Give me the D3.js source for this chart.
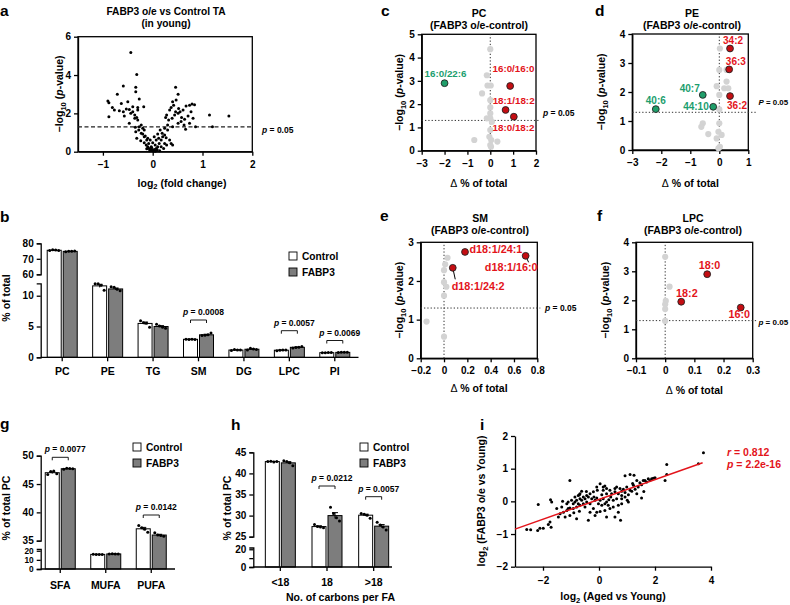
<!DOCTYPE html>
<html><head><meta charset="utf-8">
<script src="https://cdn.jsdelivr.net/npm/d3@7"></script>
<style>html,body{margin:0;padding:0;background:#fff;} svg{display:block;}</style>
</head><body>
<svg id="fig" width="790" height="605"></svg>
<script>
// ================= DATA =================
// Panel a: volcano, [log2 fold change, -log10 p]
const aPoints = [[-0.44,5.18],[-0.32,4.03],[-0.59,3.43],[-0.34,3.36],[-0.71,3.0],[-0.34,3.13],[-0.9,2.64],[-0.88,2.56],[-0.63,2.52],[-0.5,2.6],[-0.27,2.75],[-0.81,2.31],[-0.77,2.17],[-0.59,2.09],[-0.47,2.2],[-0.4,2.35],[-0.3,2.31],[-0.18,2.35],[-0.88,1.83],[-0.53,2.23],[-0.44,2.0],[-0.36,1.91],[-0.32,1.79],[-0.3,1.65],[-0.36,1.74],[-0.4,2.09],[-0.3,2.17],[-0.23,1.39],[-0.2,1.22],[-0.17,1.13],[-0.27,1.3],[-0.34,1.04],[-0.2,0.92],[-0.15,0.82],[-0.32,0.7],[-0.24,0.57],[-0.17,0.47],[-0.13,0.35],[-0.1,0.26],[-0.07,0.17],[-0.05,0.12],[-0.01,0.09],[0.01,0.05],[0.03,0.12],[0.07,0.17],[0.1,0.26],[0.05,0.35],[-0.03,0.26],[-0.08,0.43],[-0.12,0.61],[0.13,0.43],[0.17,0.61],[0.12,0.7],[0.2,0.78],[0.24,0.43],[0.28,0.35],[0.19,0.96],[0.15,1.13],[0.24,1.22],[0.1,0.92],[0.3,1.39],[0.26,1.79],[0.28,1.91],[0.34,2.17],[0.37,2.31],[0.42,2.43],[0.47,2.7],[0.46,3.36],[0.51,3.0],[0.4,2.61],[0.32,1.65],[0.39,1.74],[0.44,1.91],[0.51,2.0],[0.55,2.09],[0.61,2.17],[0.67,2.38],[0.74,2.43],[0.79,2.49],[0.84,2.45],[0.77,2.09],[0.71,1.86],[0.64,1.69],[0.57,1.57],[0.51,1.48],[0.4,1.3],[0.66,1.17],[0.86,1.3],[1.14,1.91],[1.2,1.3],[1.53,1.86],[0.37,0.43],[0.4,0.35],[0.34,0.61],[0.24,0.87],[0.17,0.26],[0.22,0.17],[0.0,0.47],[-0.05,0.61],[-0.17,0.78],[-0.23,0.96],[-0.28,1.13],[-0.35,1.27],[-0.47,1.48],[-0.57,1.86],[-0.67,2.14],[0.46,2.09],[0.52,2.26],[0.58,1.79],[0.63,1.39],[0.74,1.48],[0.81,1.74],[0.3,1.13],[0.27,0.73],[0.07,0.61],[0.03,0.78],[-0.1,0.7],[-0.06,0.05],[0.05,0.02],[-0.02,0.2],[0.09,0.1],[-0.12,0.15],[0.14,0.05]];
const aXTicks = [-1,0,1,2];
const aYTicks = [0,2,4,6];

// Panel b
const bCategories = ['PC','PE','TG','SM','DG','LPC','PI'];
const bControlMean = [75.5,11.6,5.5,2.92,1.18,1.15,0.75];
const bFabp3Mean   = [74.8,11.1,5.0,3.65,1.31,1.62,0.8];
const bControlErr  = [0.12,0.25,0.22,0.03,0.03,0.04,0.02];
const bFabp3Err    = [0.1,0.15,0.14,0.09,0.05,0.06,0.01];
const bControlDots = [[75.3,75.8,75.6,75.4],[11.95,11.95,11.7,10.9],[5.94,5.62,5.52,4.87],[2.95,2.9,2.95,2.88],[1.1,1.25,1.2,1.18],[1.05,1.15,1.2,1.2],[0.72,0.75,0.78,0.76]];
const bFabp3Dots   = [[74.6,74.9,74.8,75.0],[11.46,11.36,11.04,10.81],[5.36,5.08,4.87,4.71],[3.55,3.6,3.65,3.95],[1.2,1.45,1.35,1.25],[1.5,1.6,1.65,1.75],[0.78,0.8,0.82,0.8]];
const bPValues = [null,null,null,'0.0008',null,'0.0057','0.0069'];
const bTopTicks = [60,70,80];
const bBottomTicks = [0,5,10];

// Panel c (PC)
const cGrey = [[0,4.36],[-0.15,3.24],[-0.12,2.8],[0.02,2.8],[-0.36,2.46],[0,2.17],[0,1.86],[0,1.6],[-0.15,1.39],[0,1.39],[0.07,1.24],[0,0.89],[-0.04,0.6],[0.04,0.46],[0,0.24],[0.03,0.17],[-0.7,0.46],[0.31,0.39]];
const cNames = ['16:0/22:6','16:0/16:0','18:1/18:2','18:0/18:2'];
const cDelta = [-2.0,0.87,0.67,1.03];
const cNegLogP = [2.9,2.78,1.75,1.46];
const cGroup = ['down','up','up','up'];

// Panel d (PE)
const dGrey = [[0.02,3.5],[0,2.76],[0.25,2.76],[0.25,2.36],[0.17,2.13],[0.31,2.13],[-0.09,2.2],[0,1.9],[0,1.4],[-0.57,0.92],[-0.62,0.8],[-0.38,0.55],[0,0.92],[-0.03,0.63],[-0.09,0.4],[0.02,0.11],[-0.03,0.06],[0.08,0.52]];
const dNames = ['34:2','36:3','36:2','40:7','44:10','40:6'];
const dDelta = [0.37,0.34,0.37,-0.57,-0.21,-2.19];
const dNegLogP = [3.5,2.78,1.86,1.9,1.49,1.41];
const dGroup = ['up','up','up','down','down','down'];

// Panel e (SM)
const eGrey = [[0.03,2.6],[0.01,2.43],[0,2.28],[0,1.97],[0.02,1.85],[0,1.62],[-0.15,0.95],[0,0.56]];
const eNames = ['d18:1/24:1','d18:1/16:0','d18:1/24:2'];
const eDelta = [0.18,0.70,0.075];
const eNegLogP = [2.75,2.65,2.34];
const eGroup = ['up','up','up'];

// Panel f (LPC)
const fGrey = [[0,3.5],[0.015,2.47],[0.002,1.98],[0,1.86],[0,1.7],[0,1.29]];
const fNames = ['18:0','18:2','16:0'];
const fDelta = [0.144,0.055,0.259];
const fNegLogP = [2.9,1.95,1.75];
const fGroup = ['up','up','up'];

// Panel g
const gCategories = ['SFA','MUFA','PUFA'];
const gControlMean = [47.0,16.0,37.1];
const gFabp3Mean   = [47.7,16.5,36.0];
const gControlErr  = [0.15,0.1,0.25];
const gFabp3Err    = [0.05,0.05,0.13];
const gControlDots = [[46.7,47.2,47.3,46.8],[16.2,16.0,15.8,16.0],[37.7,37.3,37.0,36.5]];
const gFabp3Dots   = [[47.6,47.8,47.75,47.7],[16.4,16.6,16.5,16.5],[36.4,36.0,35.9,35.8]];
const gPValues = ['0.0077',null,'0.0142'];
const gTopTicks = [35,40,45,50];
const gBottomTicks = [0,10,20];

// Panel h
const hCategories = ['<18','18','>18'];
const hControlMean = [42.8,27.4,30.1];
const hFabp3Mean   = [42.5,30.0,27.5];
const hControlErr  = [0.05,0.17,0.23];
const hFabp3Err    = [0.26,0.7,0.37];
const hControlDots = [[42.8,42.9,42.7,42.8],[27.9,27.4,27.3,27.1],[30.5,30.3,30.1,29.4]];
const hFabp3Dots   = [[43.0,42.8,42.5,41.8],[32.0,30.5,29.5,28.7],[28.4,27.8,27.3,26.6]];
const hPValues = [null,'0.0212','0.0057'];
const hTopTicks = [25,30,35,40,45];
const hBottomTicks = [0,10,20];

// Panel i: [log2 Aged vs Young, log2 FABP3 o/e vs Young]
const iPoints = [[3.73,1.49],[3.55,1.15],[2.42,1.13],[2.42,0.82],[2.36,0.64],[-1.04,0.64],[1.88,0.69],[1.94,0.71],[1.82,0.64],[1.7,0.59],[1.58,0.64],[1.46,0.57],[1.11,0.82],[1.25,0.8],[0.93,0.78],[1.35,0.64],[1.23,0.49],[1.52,0.1],[1.05,-0.02],[0.63,0.44],[0.75,0.39],[0.87,0.37],[0.99,0.44],[1.11,0.34],[0.57,0.29],[0.69,0.23],[0.81,0.18],[0.93,0.13],[0.39,0.34],[0.27,0.23],[0.15,0.34],[0.04,0.54],[0.21,0.47],[-0.08,0.44],[-0.2,0.29],[-0.32,0.23],[-0.44,0.18],[-0.56,0.13],[-0.68,0.23],[-0.74,0.18],[-0.86,0.13],[-0.98,0.03],[-1.1,-0.02],[-1.3,0],[-0.08,0.1],[0.04,0.03],[0.15,0.08],[0.27,-0.02],[0.42,0.13],[0.51,0.03],[0.63,0.08],[-0.44,-0.02],[-0.56,-0.07],[-0.68,-0.12],[-0.8,-0.17],[-0.92,-0.22],[-1.04,-0.2],[-1.15,-0.28],[-1.27,-0.33],[-1.39,-0.38],[-1.45,-0.48],[-1.21,-0.48],[-1.04,-0.43],[-0.8,-0.53],[-0.38,-0.58],[-0.32,-0.33],[-0.2,-0.22],[-0.08,-0.33],[0.04,-0.31],[0.21,-0.28],[0.27,-0.48],[0.57,-0.48],[0.77,-0.58],[0.51,-0.17],[0.69,-0.12],[0.81,-0.07],[-1.73,0.05],[-1.69,-0.02],[-2.17,-0.1],[-1.75,-0.63],[-1.81,-0.71],[-1.71,-0.79],[-1.99,-0.82],[-2.11,-0.82],[-2.19,-0.89],[-2.44,-0.87],[-2.58,-0.86],[-1.51,-0.22],[-1.33,-0.17],[-1.15,-0.07],[-0.86,-0.02],[-0.74,-0.07],[-0.62,0.03],[-0.5,0.08],[-0.38,0.13],[-0.26,0.08],[-0.14,0.03],[-0.02,-0.07],[0.1,-0.12],[0.33,-0.12],[0.45,0.23],[0.57,0.39],[0.81,0.31],[0.93,0.27],[1.05,0.2],[1.17,0.31],[1.29,0.37],[1.4,0.44],[1.52,0.51],[1.64,0.64],[1.76,0.69],[1.35,0.23],[0.81,0.08],[1.01,0.03],[-0.68,0.08],[-0.92,-0.07],[-0.8,0.03],[-0.14,-0.43],[0.21,-0.07],[0.39,-0.22],[0.69,-0.33],[0.15,0.44],[0.27,0.39],[-0.06,0.34],[-0.62,0.31],[-0.7,0.2],[-0.18,0.13],[-1.1,-0.22],[-0.5,-0.17],[-0.32,-0.07],[-0.7,-0.3],[-0.9,-0.35],[-0.45,0.3],[0.1,0.2],[0.35,0.05],[1.2,0.55],[1.6,0.3],[2.0,0.72]];
const iFitX = [-3.0,3.7];
const iFitY = [-0.85,1.18];
const iXTicks = [-2,0,2,4];
const iYTicks = [-2,-1,0,1,2];

// ================= DRAWING =================
const FONT = '"Liberation Sans", Arial, Helvetica, sans-serif';
const RED_TXT = '#e3141b', RED_PT = '#c40d12', GREEN_TXT = '#1b9e6e', GREEN_PT = '#1f9e6a', GREY_PT = '#d3d3d3', BAR_GREY = '#7d7d7d';
const svg = d3.select('#fig').attr('font-family', FONT).attr('font-weight', 'bold');
const fmtInt = d3.format('');
const fmt1 = d => d === 0 ? '0' : d3.format('.1f')(d);

function addText(parent, x, y, parts, opt = {}) {
  const fs = opt.fs || 10;
  const t = parent.append('text').attr('x', x).attr('y', y).attr('font-size', fs)
    .attr('text-anchor', opt.anchor || 'start').attr('fill', opt.fill || '#000');
  if (opt.rotate) t.attr('transform', `rotate(-90,${x},${y})`);
  if (opt.weight) t.attr('font-weight', opt.weight);
  if (typeof parts === 'string') parts = [{t: parts}];
  let shifted = 0;
  parts.forEach(p => {
    const ts = t.append('tspan').text(p.t);
    if (p.it) ts.attr('font-style', 'italic');
    if (p.w) ts.attr('font-weight', p.w);
    if (p.sub) { ts.attr('font-size', fs * 0.72).attr('dy', fs * 0.25); shifted = fs * 0.25; }
    else if (shifted) { ts.attr('dy', -shifted); shifted = 0; }
  });
  return t;
}
function styleAxis(g, fs = 10) {
  g.attr('font-family', FONT).attr('font-size', fs).attr('font-weight', 'bold');
  g.selectAll('.domain, .tick line').attr('stroke', '#000').attr('stroke-width', 1.3);
  g.selectAll('.tick text').attr('fill', '#000');
  return g;
}
function letter(ch, x, y) { addText(svg, x, y, ch, {fs: 15.5}); }
const negLogPLabel = [{t:'−log'},{t:'10',sub:true},{t:' ('},{t:'p',it:true},{t:'-value)'}];
const deltaLabel = [{t:'Δ', w:'normal'},{t:' % of total'}];

// ---------- Panel a ----------
(function(){
  const g = svg.append('g');
  const x = d3.scaleLinear().domain([-1.5, 2]).range([78, 252.3]);
  const y = d3.scaleLinear().domain([0, 6]).range([151.7, 36.7]);
  letter('a', 0, 15.5);
  addText(g, 166, 15, 'FABP3 o/e vs Control TA', {fs: 10.2, anchor: 'middle'});
  addText(g, 166, 27, '(in young)', {fs: 10.2, anchor: 'middle'});
  g.append('g').attr('transform', `translate(0,${y(0)})`)
    .call(d3.axisBottom(x).tickValues(aXTicks).tickFormat(fmtInt).tickSize(4).tickSizeOuter(0).tickPadding(5)).call(styleAxis);
  g.append('g').attr('transform', `translate(${x(-1.5)},0)`)
    .call(d3.axisLeft(y).tickValues(aYTicks).tickFormat(fmtInt).tickSize(4).tickSizeOuter(0)).call(styleAxis);
  g.append('rect').attr('x', x(-1.5)).attr('y', y(6)).attr('width', x(2) - x(-1.5)).attr('height', y(0) - y(6))
    .attr('fill', 'none').attr('stroke', '#000').attr('stroke-width', 1.3);
  g.append('line').attr('x1', x(-1.5)).attr('x2', x(2)).attr('y1', y(1.3)).attr('y2', y(1.3))
    .attr('stroke', '#222').attr('stroke-width', 1.2).attr('stroke-dasharray', '4,2.5');
  g.selectAll('circle.pt').data(aPoints).join('circle').attr('class', 'pt')
    .attr('cx', d => x(d[0])).attr('cy', d => y(d[1])).attr('r', 1.5).attr('fill', '#000');
  addText(g, 262, 133, [{t:'p', it:true},{t:' = 0.05'}], {fs: 8.5});
  addText(g, 182, 186.5, [{t:'log'},{t:'2',sub:true},{t:' (fold change)'}], {fs: 10.5, anchor: 'middle'});
  addText(g, 63, 94, negLogPLabel, {fs: 10.5, anchor: 'middle', rotate: true});
})();

// ---------- Bar chart helper (b, g, h) ----------
function barPanel(cfg) {
  const g = svg.append('g');
  const x = d3.scaleBand().domain(cfg.cats).range(cfg.band).paddingInner(0).paddingOuter(0);
  const yTop = d3.scaleLinear().domain(cfg.topDom).range(cfg.topRange);
  const yBot = d3.scaleLinear().domain(cfg.botDom).range(cfg.botRange);
  const yv = v => v >= cfg.topDom[0] ? yTop(v) : yBot(v);
  const y0 = yBot(0);
  const bw = 14, gap = 1;
  const series = [
    {mean: cfg.ctrl, err: cfg.ctrlErr, dots: cfg.ctrlDots, fill: '#fff', off: -gap - bw},
    {mean: cfg.fab, err: cfg.fabErr, dots: cfg.fabDots, fill: BAR_GREY, off: gap}
  ];
  series.forEach(s => {
    cfg.cats.forEach((c, i) => {
      const cx = x(c) + x.bandwidth() / 2;
      const left = cx + s.off;
      g.append('rect').attr('x', left).attr('y', yv(s.mean[i])).attr('width', bw).attr('height', y0 - yv(s.mean[i]))
        .attr('fill', s.fill).attr('stroke', '#000').attr('stroke-width', 1);
      const mid = left + bw / 2;
      const e1 = yv(s.mean[i] + s.err[i]), e0 = yv(s.mean[i] - s.err[i]);
      g.append('line').attr('x1', mid).attr('x2', mid).attr('y1', e1).attr('y2', e0).attr('stroke', '#000').attr('stroke-width', 1);
      g.append('line').attr('x1', mid - 3).attr('x2', mid + 3).attr('y1', e1).attr('y2', e1).attr('stroke', '#000').attr('stroke-width', 1);
      const offs = [-4.5, -1.5, 1.5, 4.5];
      s.dots[i].forEach((v, k) => {
        g.append('circle').attr('cx', mid + offs[k]).attr('cy', yv(v)).attr('r', 1.5).attr('fill', '#000');
      });
    });
  });
  // axes
  g.append('g').attr('transform', `translate(${cfg.axisX},0)`)
    .call(d3.axisLeft(yTop).tickValues(cfg.topTicks).tickFormat(fmtInt).tickSize(4).tickSizeOuter(4)).call(styleAxis);
  g.append('g').attr('transform', `translate(${cfg.axisX},0)`)
    .call(d3.axisLeft(yBot).tickValues(cfg.botTicks).tickSize(4).tickSizeOuter(4)
      .tickFormat(d => (cfg.botLabels ? (cfg.botLabels.includes(d) ? fmtInt(d) : '') : fmtInt(d))))
    .call(g2 => styleAxis(g2, cfg.botFs || 10));
  const bx = g.append('g').attr('transform', `translate(0,${y0})`)
    .call(d3.axisBottom(x).tickSize(4).tickPadding(cfg.catPad)).call(g2 => styleAxis(g2, cfg.catFs));
  bx.select('.domain').remove();
  g.append('line').attr('x1', cfg.axisX).attr('x2', cfg.axisEnd).attr('y1', y0).attr('y2', y0)
    .attr('stroke', '#000').attr('stroke-width', 1.3);
  // p brackets
  cfg.pvals.forEach((p, i) => {
    if (!p) return;
    const cx = x(cfg.cats[i]) + x.bandwidth() / 2;
    const by = cfg.bracketY[i];
    const xl = cx - gap - bw / 2, xr = cx + gap + bw / 2;
    g.append('path').attr('d', `M${xl},${by + 3}V${by}H${xr}V${by + 3}`).attr('fill', 'none').attr('stroke', '#000').attr('stroke-width', 0.9);
    addText(g, cx + 5, by - 5, [{t:'p', it:true},{t:' = ' + p}], {fs: 8.5, anchor: 'middle'});
  });
  // legend
  const L = cfg.legend;
  g.append('rect').attr('x', L.x).attr('y', L.y).attr('width', 8).attr('height', 8).attr('fill', '#fff').attr('stroke', '#000').attr('stroke-width', 0.9);
  g.append('rect').attr('x', L.x).attr('y', L.y + 16).attr('width', 8).attr('height', 8).attr('fill', BAR_GREY).attr('stroke', '#000').attr('stroke-width', 0.9);
  addText(g, L.x + 13, L.y + 8, 'Control', {fs: 10.2});
  addText(g, L.x + 13, L.y + 24, 'FABP3', {fs: 10.2});
  addText(g, cfg.ylab.x, cfg.ylab.y, cfg.ylab.t, {fs: 10.5, anchor: 'middle', rotate: true});
  return g;
}

// ---------- Panel b ----------
letter('b', 0, 221.5);
barPanel({
  cats: bCategories, band: [39.5, 357.5], topDom: [60, 80], topRange: [274.3, 243.3], botDom: [0, 12], botRange: [357.3, 283.4],
  ctrl: bControlMean, fab: bFabp3Mean, ctrlErr: bControlErr, fabErr: bFabp3Err, ctrlDots: bControlDots, fabDots: bFabp3Dots,
  topTicks: bTopTicks, botTicks: bBottomTicks, axisX: 40.7, axisEnd: 358.5, catPad: 6, catFs: 10.5,
  pvals: bPValues, bracketY: [0, 0, 0, 320, 0, 330.7, 340.5],
  legend: {x: 289, y: 252}, ylab: {x: 10, y: 298, t: '% of total'}
});

// ---------- Panel g ----------
letter('g', 0, 428.5);
barPanel({
  cats: gCategories, band: [37.5, 174], topDom: [35, 50], topRange: [540.7, 455.7], botDom: [0, 22], botRange: [569, 548.9],
  ctrl: gControlMean, fab: gFabp3Mean, ctrlErr: gControlErr, fabErr: gFabp3Err, ctrlDots: gControlDots, fabDots: gFabp3Dots,
  topTicks: gTopTicks, botTicks: gBottomTicks, botFs: 8.3, axisX: 40.7, axisEnd: 175, catPad: 9, catFs: 10.5,
  pvals: gPValues, bracketY: [457.3, 0, 515],
  legend: {x: 133, y: 443}, ylab: {x: 9.5, y: 508, t: '% of total PC'}
});

// ---------- Panel h ----------
letter('h', 231, 429.5);
barPanel({
  cats: hCategories, band: [257, 397], topDom: [25, 45], topRange: [536.7, 452.3], botDom: [0, 22], botRange: [567, 547.5],
  ctrl: hControlMean, fab: hFabp3Mean, ctrlErr: hControlErr, fabErr: hFabp3Err, ctrlDots: hControlDots, fabDots: hFabp3Dots,
  topTicks: hTopTicks, botTicks: hBottomTicks, botLabels: [0, 20], axisX: 253.3, axisEnd: 392, catPad: 8, catFs: 10.5,
  pvals: hPValues, bracketY: [0, 486, 496.7],
  legend: {x: 360, y: 443}, ylab: {x: 230.5, y: 508, t: '% of total PC'}
});
addText(svg, 340.5, 600.5, 'No. of carbons per FA', {fs: 10.5, anchor: 'middle'});

// ---------- Volcano helper (c, d, e, f) ----------
function volcanoPanel(cfg) {
  const g = svg.append('g');
  const x = d3.scaleLinear().domain(cfg.xDom).range(cfg.xRange);
  const y = d3.scaleLinear().domain(cfg.yDom).range(cfg.yRange);
  letter(cfg.letter, cfg.letterPos[0], cfg.letterPos[1]);
  const cx = (cfg.xRange[0] + cfg.xRange[1]) / 2;
  addText(g, cfg.titleX, cfg.titleY, cfg.title, {fs: 10.5, anchor: 'middle'});
  addText(g, cfg.titleX, cfg.titleY + 12, '(FABP3 o/e-control)', {fs: 10.5, anchor: 'middle'});
  g.append('g').attr('transform', `translate(0,${cfg.yRange[0]})`)
    .call(d3.axisBottom(x).tickValues(cfg.xTicks).tickSize(4).tickSizeOuter(0).tickPadding(5).tickFormat(cfg.xFmt || fmtInt)).call(styleAxis);
  g.append('g').attr('transform', `translate(${cfg.xRange[0]},0)`)
    .call(d3.axisLeft(y).tickValues(cfg.yTicks).tickFormat(fmtInt).tickSize(4).tickSizeOuter(0)).call(styleAxis);
  g.append('rect').attr('x', cfg.xRange[0]).attr('y', cfg.yRange[1]).attr('width', cfg.xRange[1] - cfg.xRange[0])
    .attr('height', cfg.yRange[0] - cfg.yRange[1]).attr('fill', 'none').attr('stroke', '#000').attr('stroke-width', 1.3);
  g.append('line').attr('x1', x(0)).attr('x2', x(0)).attr('y1', cfg.yRange[0]).attr('y2', cfg.yRange[1])
    .attr('stroke', '#333').attr('stroke-width', 1).attr('stroke-dasharray', '1.3,2');
  g.append('line').attr('x1', cfg.xRange[0]).attr('x2', cfg.xRange[1] + cfg.lineExt).attr('y1', y(1.3)).attr('y2', y(1.3))
    .attr('stroke', '#333').attr('stroke-width', 1).attr('stroke-dasharray', '1.3,2');
  g.selectAll('circle.grey').data(cfg.grey).join('circle').attr('class', 'grey')
    .attr('cx', d => x(d[0])).attr('cy', d => y(d[1])).attr('r', 3.1).attr('fill', GREY_PT);
  cfg.names.forEach((nm, i) => {
    const px = x(cfg.dx[i]), py = y(cfg.dy[i]);
    const up = cfg.group[i] === 'up';
    const lp = cfg.labels[i];
    if (lp.leader) g.append('line').attr('x1', px).attr('y1', py).attr('x2', px + lp.leader[0]).attr('y2', py + lp.leader[1])
      .attr('stroke', '#000').attr('stroke-width', 1);
    g.append('circle').attr('cx', px).attr('cy', py).attr('r', 3.4)
      .attr('fill', up ? RED_PT : GREEN_PT).attr('stroke', '#222').attr('stroke-width', 0.9);
    addText(g, px + lp.ox, py + lp.oy, nm, {fs: cfg.labelFs, anchor: lp.a, fill: up ? RED_TXT : GREEN_TXT});
  });
  addText(g, cfg.pPos[0], cfg.pPos[1], [{t: cfg.pChar, it: true}, {t: ' = 0.05'}], {fs: cfg.pFs || 8.5});
  addText(g, cx, cfg.xLabY, deltaLabel, {fs: 10.5, anchor: 'middle'});
  addText(g, cfg.yLabX, (cfg.yRange[0] + cfg.yRange[1]) / 2, negLogPLabel, {fs: 10.5, anchor: 'middle', rotate: true});
}

volcanoPanel({
  letter: 'c', letterPos: [381, 15.5], title: 'PC', titleX: 479, titleY: 16.5,
  xDom: [-3, 2], xRange: [421.7, 536], yDom: [0, 5], yRange: [150.7, 34.3], xTicks: [-3,-2,-1,0,1,2], yTicks: [0,1,2,3,4,5],
  grey: cGrey, names: cNames, dx: cDelta, dy: cNegLogP, group: cGroup, labelFs: 9.8,
  labels: [{ox:1, oy:-6.5, a:'middle'},{ox:24.3, oy:-14.3, a:'end'},{ox:29, oy:-5.8, a:'end'},{ox:20.7, oy:14.5, a:'end'}],
  lineExt: 4, pChar: 'p', pPos: [543, 116], xLabY: 187, yLabX: 403
});
volcanoPanel({
  letter: 'd', letterPos: [595, 15.5], title: 'PE', titleX: 692, titleY: 16.5,
  xDom: [-3, 1], xRange: [632.3, 748.3], yDom: [0, 4], yRange: [150, 34], xTicks: [-3,-2,-1,0,1], yTicks: [0,1,2,3,4],
  grey: dGrey, names: dNames, dx: dDelta, dy: dNegLogP, group: dGroup, labelFs: 10,
  labels: [{ox:3, oy:-5, a:'middle'},{ox:6.7, oy:-4, a:'middle'},{ox:7, oy:12.5, a:'middle'},{ox:-13, oy:-2.5, a:'middle'},{ox:-4.5, oy:3, a:'end'},{ox:0, oy:-5.5, a:'middle'}],
  lineExt: 8, pChar: 'P', pPos: [758.5, 105], pFs: 7.9, xLabY: 187, yLabX: 605
});
volcanoPanel({
  letter: 'e', letterPos: [380, 221], title: 'SM', titleX: 480, titleY: 222,
  xDom: [-0.2, 0.8], xRange: [420.7, 537.3], yDom: [0, 3], yRange: [358.3, 242.3], xTicks: [-0.2,0,0.2,0.4,0.6,0.8], yTicks: [0,1,2,3], xFmt: fmt1,
  grey: eGrey, names: eNames, dx: eDelta, dy: eNegLogP, group: eGroup, labelFs: 10.8,
  labels: [{ox:4.5, oy:1.5, a:'start'},{ox:12, oy:15.3, a:'end', leader:[3,6.5]},{ox:-1, oy:22.3, a:'start', leader:[2.5,11.5]}],
  lineExt: 3, pChar: 'p', pPos: [545, 310.5], xLabY: 392, yLabX: 403
});
volcanoPanel({
  letter: 'f', letterPos: [597, 221], title: 'LPC', titleX: 693, titleY: 222,
  xDom: [-0.1, 0.3], xRange: [636, 752.7], yDom: [0, 4], yRange: [358.3, 242.3], xTicks: [-0.1,0,0.1,0.2,0.3], yTicks: [0,1,2,3,4], xFmt: fmt1,
  grey: fGrey, names: fNames, dx: fDelta, dy: fNegLogP, group: fGroup, labelFs: 10.8,
  labels: [{ox:2.3, oy:-5.3, a:'middle'},{ox:5.7, oy:-5, a:'middle'},{ox:-1.5, oy:10.6, a:'middle'}],
  lineExt: 5, pChar: 'p', pPos: [758.5, 324.8], pFs: 8, xLabY: 393.7, yLabX: 609
});

// ---------- Panel i ----------
(function(){
  const g = svg.append('g');
  const x = d3.scaleLinear().domain([-3, 4]).range([515, 711]);
  const y = d3.scaleLinear().domain([-2, 2]).range([566.7, 436]);
  letter('i', 480, 429.5);
  g.append('g').attr('transform', `translate(0,${y(-2)})`)
    .call(d3.axisBottom(x).tickValues(iXTicks).tickFormat(fmtInt).tickSize(4).tickSizeOuter(0).tickPadding(6)).call(styleAxis);
  g.append('g').attr('transform', `translate(${x(-3)},0)`)
    .call(d3.axisLeft(y).tickValues(iYTicks).tickFormat(fmtInt).tickSize(4).tickSizeOuter(0)).call(styleAxis);
  g.selectAll('circle.pt').data(iPoints).join('circle').attr('class', 'pt')
    .attr('cx', d => x(d[0])).attr('cy', d => y(d[1])).attr('r', 1.5).attr('fill', '#000');
  g.append('line').attr('x1', x(iFitX[0])).attr('y1', y(iFitY[0])).attr('x2', x(iFitX[1])).attr('y2', y(iFitY[1]))
    .attr('stroke', '#e3141b').attr('stroke-width', 1.5);
  addText(g, 727, 455.5, [{t:'r', it:true},{t:' = 0.812'}], {fs: 10.5, fill: RED_TXT});
  addText(g, 727, 467.5, [{t:'p', it:true},{t:' = 2.2e-16'}], {fs: 10.5, fill: RED_TXT});
  addText(g, 613, 600, [{t:'log'},{t:'2',sub:true},{t:' (Aged vs Young)'}], {fs: 10.5, anchor: 'middle'});
  addText(g, 485, 501, [{t:'log'},{t:'2',sub:true},{t:' (FABP3 o/e vs Young)'}], {fs: 10.5, anchor: 'middle', rotate: true});
})();
</script>
</body></html>
